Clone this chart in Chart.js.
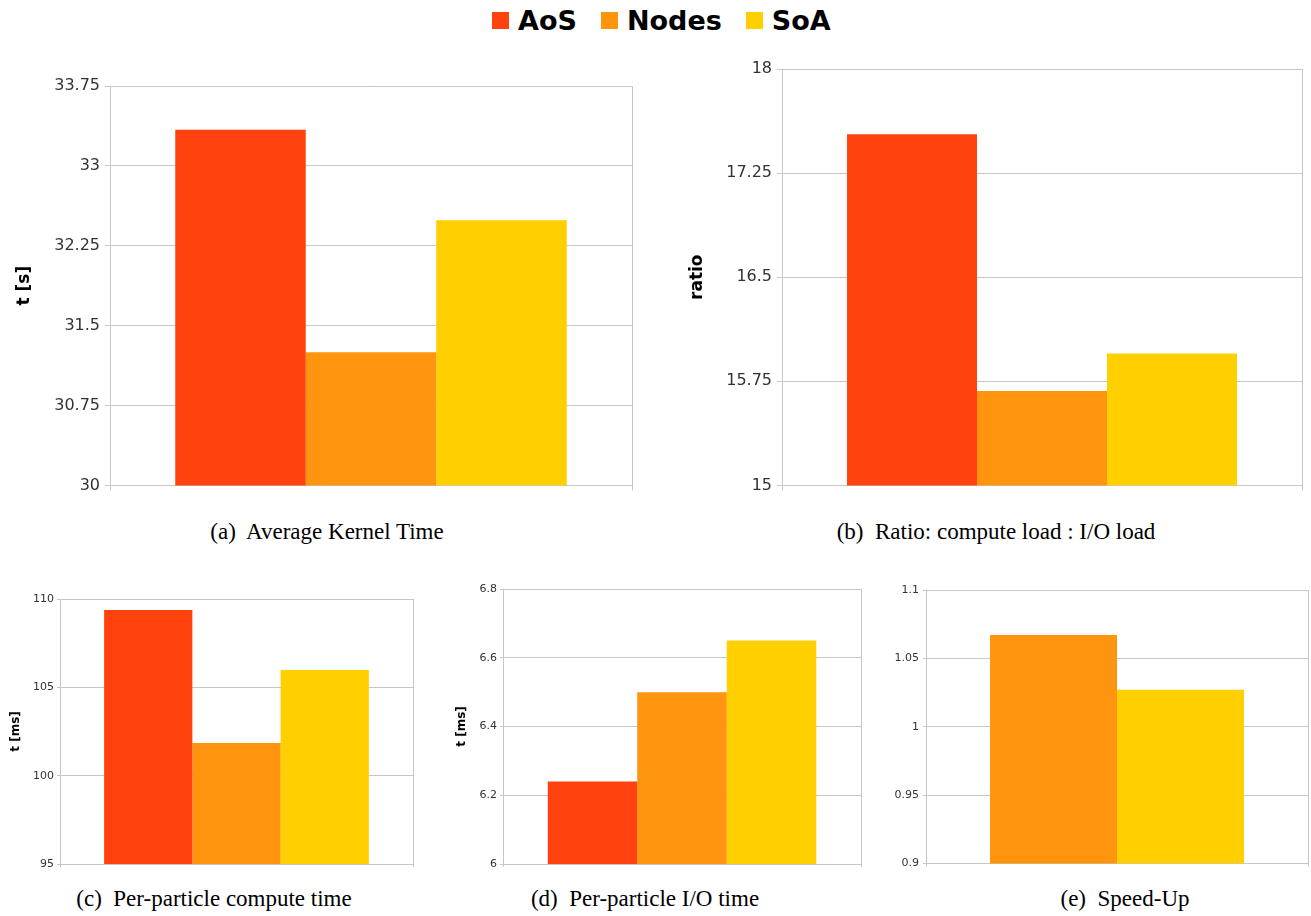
<!DOCTYPE html>
<html>
<head>
<meta charset="utf-8">
<script src="https://cdn.jsdelivr.net/npm/chart.js@4/dist/chart.umd.min.js"></script>
<style>
  html, body { margin: 0; padding: 0; background: #fff; }
  body { width: 1311px; height: 916px; position: relative; overflow: hidden; }
  canvas { position: absolute; }
  #legend { position: absolute; left: 492px; top: 0; height: 41px; display: flex; align-items: center;
            font: bold 27px "DejaVu Sans"; color: #000; }
  #legend .item { display: flex; align-items: center; margin-right: 24px; }
  #legend .swatch { width: 17px; height: 17px; margin-right: 9px; }
  .cap { position: absolute; font: 23px "Liberation Serif"; color: #000; white-space: pre;
         line-height: 26px; transform: translateX(-50%); }
</style>
</head>
<body>
<div id="legend"></div>
<script>
// ---- data ----
const seriesNames  = ['AoS', 'Nodes', 'SoA'];
const seriesColors = ['#ff420e', '#ff950e', '#ffcf00'];

const kernelTime  = [33.34, 31.25, 32.49];     // (a) t [s]
const loadRatio   = [17.53, 15.68, 15.95];     // (b) ratio
const computeTime = [109.38, 101.85, 105.98];  // (c) t [ms]
const ioTime      = [6.24, 6.50, 6.65];        // (d) t [ms]
const speedUpNames = ['Nodes', 'SoA'];         // (e) relative to AoS
const speedUp      = [1.067, 1.027];

const kernelTicks  = [30, 30.75, 31.5, 32.25, 33, 33.75];
const ratioTicks   = [15, 15.75, 16.5, 17.25, 18];
const computeTicks = [95, 100, 105, 110];
const ioTicks      = [6, 6.2, 6.4, 6.6, 6.8];
const speedTicks   = [0.9, 0.95, 1, 1.05, 1.1];

const captions = [
  '(a)  Average Kernel Time',
  '(b)  Ratio: compute load : I/O load',
  '(c)  Per-particle compute time',
  '(d)  Per-particle I/O time',
  '(e)  Speed-Up'
];

// ---- shared legend ----
const colorOf = {};
seriesNames.forEach((n, i) => { colorOf[n] = seriesColors[i]; });
const legend = document.getElementById('legend');
seriesNames.forEach(n => {
  const item = document.createElement('div');
  item.className = 'item';
  const sw = document.createElement('div');
  sw.className = 'swatch';
  sw.style.background = colorOf[n];
  const tx = document.createElement('span');
  tx.textContent = n;
  item.appendChild(sw); item.appendChild(tx);
  legend.appendChild(item);
});

// ---- panels ----
const GRID = '#c6c6c6';

function panel(p) {
  const padTop = 20, padBottom = 6;
  const padRight = Math.min(10, 1311 - p.right);
  const xAxisH = p.tickLen + 1;
  const cl = p.left - p.axisW, ct = p.top - padTop;
  const w = p.right - cl + padRight;
  const h = p.bottom - ct + xAxisH + padBottom;
  const c = document.createElement('canvas');
  c.width = w; c.height = h;
  c.style.left = cl + 'px'; c.style.top = ct + 'px';
  c.style.width = w + 'px'; c.style.height = h + 'px';
  document.body.appendChild(c);

  const ticks = p.ticks;
  new Chart(c, {
    type: 'bar',
    data: {
      labels: [''],
      datasets: p.names.map((n, i) => ({
        label: n,
        data: [p.values[i]],
        backgroundColor: colorOf[n],
        borderWidth: 0,
        categoryPercentage: p.catPct,
        barPercentage: 1
      }))
    },
    options: {
      responsive: false,
      animation: false,
      devicePixelRatio: 1,
      layout: { padding: { left: 0, top: padTop, right: padRight, bottom: padBottom } },
      plugins: { legend: { display: false }, tooltip: { enabled: false } },
      scales: {
        x: {
          ticks: { display: false },
          grid: { color: GRID, tickLength: p.tickLen, offset: true },
          border: { color: GRID },
          afterFit(s) { s.height = xAxisH; }
        },
        y: {
          min: ticks[0],
          max: ticks[ticks.length - 1],
          afterBuildTicks(s) { s.ticks = ticks.map(v => ({ value: v })); },
          ticks: {
            font: { family: 'DejaVu Sans', size: p.fontSize },
            color: '#333',
            padding: p.tickPad,
            autoSkip: false,
            callback: v => String(v)
          },
          grid: { color: GRID, tickLength: p.tickLen },
          border: { color: GRID },
          title: p.title ? {
            display: true,
            text: p.title,
            color: '#000',
            font: { family: 'DejaVu Sans', size: p.titleSize, weight: 'bold', lineHeight: 1 },
            padding: { top: p.titleCenter - p.titleSize / 2, bottom: 0 }
          } : { display: false },
          afterFit(s) { s.width = p.axisW; }
        }
      }
    }
  });
}

panel({ left: 110, top: 86, right: 632, bottom: 488, axisW: 110,
        tickLen: 5, tickPad: 5, fontSize: 16,
        title: 't [s]', titleSize: 17, titleCenter: 25,
        names: seriesNames, values: kernelTime, ticks: kernelTicks, catPct: 0.75 });

panel({ left: 782, top: 69, right: 1302, bottom: 488, axisW: 122,
        tickLen: 5, tickPad: 5, fontSize: 16,
        title: 'ratio', titleSize: 17, titleCenter: 38,
        names: seriesNames, values: loadRatio, ticks: ratioTicks, catPct: 0.75 });

panel({ left: 60, top: 599, right: 413, bottom: 864, axisW: 60,
        tickLen: 3, tickPad: 3, fontSize: 11,
        title: 't [ms]', titleSize: 12, titleCenter: 15.5,
        names: seriesNames, values: computeTime, ticks: computeTicks, catPct: 0.75 });

panel({ left: 503, top: 589, right: 861, bottom: 864, axisW: 63,
        tickLen: 3, tickPad: 3, fontSize: 11,
        title: 't [ms]', titleSize: 12, titleCenter: 22,
        names: seriesNames, values: ioTime, ticks: ioTicks, catPct: 0.75 });

panel({ left: 926, top: 590, right: 1308, bottom: 864, axisW: 46,
        tickLen: 3, tickPad: 4, fontSize: 11,
        title: null,
        names: speedUpNames, values: speedUp, ticks: speedTicks, catPct: 0.665 });

// ---- captions ----
const capPos = [[327, 519], [996, 519], [214, 886], [645, 886], [1125, 886]];
captions.forEach((t, i) => {
  const d = document.createElement('div');
  d.className = 'cap';
  d.textContent = t;
  d.style.left = capPos[i][0] + 'px';
  d.style.top = capPos[i][1] + 'px';
  document.body.appendChild(d);
});
</script>
</body>
</html>
